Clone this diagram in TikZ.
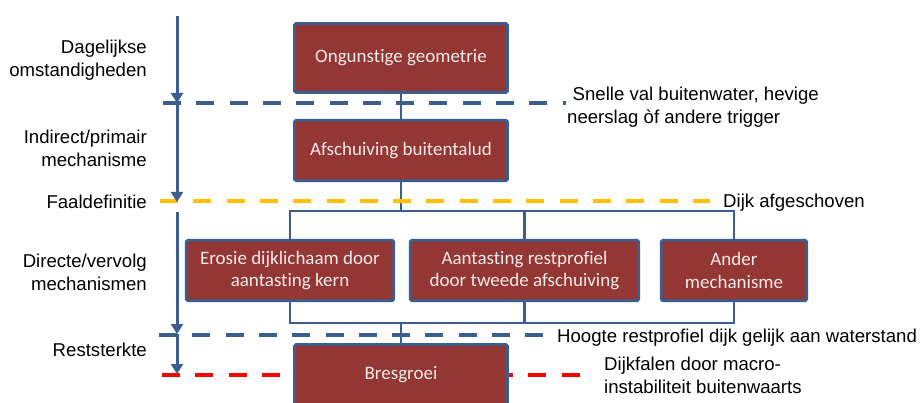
\documentclass[tikz,border=0pt]{standalone}
\usepackage{fontspec}
\setmainfont{Liberation Sans}
\newfontfamily\boxfont[Ligatures=NoCommon]{Carlito}
\usetikzlibrary{arrows.meta}
\definecolor{bblue}{HTML}{3A5F8E}
\definecolor{bred}{HTML}{943634}
\definecolor{byellow}{HTML}{FFC000}
\definecolor{bredline}{HTML}{FF0000}
\definecolor{btext}{HTML}{F4ECEC}
\begin{document}
\begin{tikzpicture}[x=1pt,y=-1pt,
  mbox/.style={draw=bblue, line width=2.6pt, fill=bred, rounded corners=1.5pt, text=btext,
    font=\boxfont\fontsize{19}{22.5}\selectfont, align=center, inner sep=0pt},
  conn/.style={draw=bblue, line width=2.6pt},
  dline/.style={line width=4pt, dash pattern=on 18pt off 15.3pt},
  flow/.style={draw=bblue, line width=3pt, -{Triangle[width=12pt,length=10pt]}},
  lbl/.style={font=\fontsize{18.6}{23}\selectfont, inner sep=0pt, text=black},
]
\path[use as bounding box, clip] (0,0) rectangle (923,403);
\fill[white] (0,0) rectangle (923,403);

% dashed level lines (red under box)
\coordinate (r1) at (162,375); \coordinate (r2) at (581,375);
\draw[dline, bredline] (r1) -- (r2);

% boxes
\node[mbox, minimum width=213pt, minimum height=69pt] (og) at (401,58) {Ongunstige geometrie};
\node[mbox, minimum width=213pt, minimum height=60.5pt] (af) at (401,150.5) {Afschuiving buitentalud};
\node[mbox, minimum width=207.5pt, minimum height=60.5pt] (er) at (290,270.5) {Erosie dijklichaam door\\aantasting kern};
\node[mbox, minimum width=228.5pt, minimum height=60.5pt] (aa) at (524.5,270.5) {Aantasting restprofiel\\door tweede afschuiving};
\node[mbox, minimum width=145.5pt, minimum height=60.5pt] (an) at (734,270.5) {Ander\\mechanisme};
\node[mbox, minimum width=213pt, minimum height=61pt] (br) at (401,375) {Bresgroei};

% connectors
\coordinate (tb) at (0,211);
\coordinate (bb) at (0,323);
\draw[conn] (og.south) -- (af.north);
\draw[conn] (af.south) -- (af.south |- tb);
\draw[conn] (er.north) -- (er.north |- tb) -| (an.north);
\draw[conn] (aa.north) -- (aa.north |- tb);
\draw[conn] (er.south) -- (er.south |- bb) -| (an.south);
\draw[conn] (aa.south) -- (aa.south |- bb);
\draw[conn] (br.north) -- (br.north |- bb);

% other dashed lines
\coordinate (b1) at (163,103); \coordinate (b2) at (566,103);
\draw[dline, bblue] (b1) -- (b2);
\coordinate (y1) at (160,201.5); \coordinate (y2) at (710,201.5);
\draw[dline, byellow] (y1) -- (y2);
\coordinate (c1) at (159,335); \coordinate (c2) at (543,335);
\draw[dline, bblue] (c1) -- (c2);

% left flow arrows
\coordinate (a0) at (177,16);
\coordinate (a1) at (177,103);
\coordinate (a2) at (177,202);
\coordinate (a3) at (177,212);
\coordinate (a4) at (177,334);
\coordinate (a5) at (177,374);
\draw[flow] (a0) -- (a1);
\draw[flow] (a1) -- (a2);
\draw[flow] (a3) -- (a4);
\draw[flow] (a4) -- (a5);

% left labels
\node[lbl, anchor=east, align=right] (l1) at (147,60) {Dagelijkse\\omstandigheden};
\node[lbl, anchor=east, align=right] (l2) at (147,148) {Indirect/primair\\mechanisme};
\node[lbl, anchor=east] (l3) at (147,201.5) {Faaldefinitie};
\node[lbl, anchor=east, align=right] (l4) at (147,272) {Directe/vervolg\\mechanismen};
\node[lbl, anchor=east] (l5) at (147,350) {Reststerkte};

% right labels
\node[lbl, anchor=west, align=left] (t1) at (567,107) {\hspace*{5.5pt}Snelle val buitenwater, hevige\\neerslag òf andere trigger};
\node[lbl, anchor=west] (t2) at (723,203) {Dijk afgeschoven};
\node[lbl, anchor=west] (t3) at (557,338) {Hoogte restprofiel dijk gelijk aan waterstand};
\node[lbl, anchor=west, align=left] (t4) at (604,375.5) {Dijkfalen door macro-\\instabiliteit buitenwaarts};
\end{tikzpicture}
\end{document}
